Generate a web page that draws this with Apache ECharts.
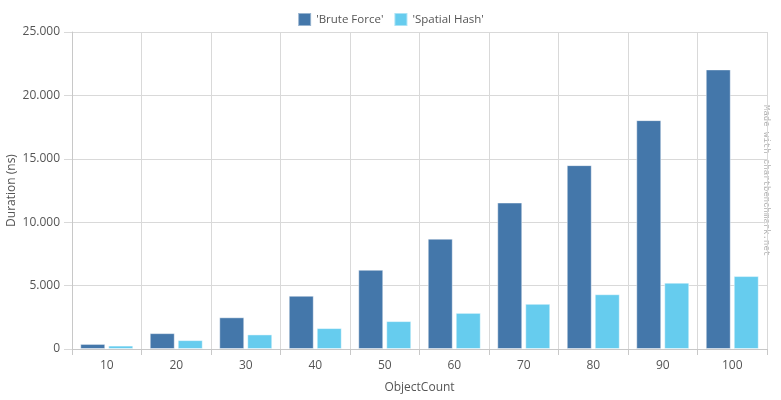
<!DOCTYPE html>
<html>
<head>
<meta charset="utf-8">
<script src="https://cdn.jsdelivr.net/npm/echarts@6/dist/echarts.min.js"></script>
<style>
  html, body { margin: 0; padding: 0; background: #fff; }
  #chart { width: 781px; height: 400px; }
</style>
</head>
<body>
<div id="chart"></div>
<script>
// categories and values
var objectCounts = ['10', '20', '30', '40', '50', '60', '70', '80', '90', '100'];
var bruteForce = [400, 1250, 2500, 4200, 6250, 8700, 11550, 14500, 18050, 22050];
var spatialHash = [270, 700, 1150, 1650, 2200, 2850, 3560, 4320, 5230, 5750];

var font = '"Open Sans", "Noto Sans", sans-serif';
var gridColor = '#d9d9d9';

// 25000 -> "25.000"
function fmt(v) {
  return String(v).replace(/\B(?=(\d{3})+(?!\d))/g, '.');
}

var chart = echarts.init(document.getElementById('chart'));
chart.setOption({
  animation: false,
  backgroundColor: '#fff',
  textStyle: { fontFamily: font },
  legend: {
    top: 7,
    left: 'center',
    itemWidth: 13,
    itemHeight: 13,
    itemGap: 10,
    icon: 'rect',
    textStyle: { color: '#555', fontSize: 11.5, fontFamily: font },
    data: ["'Brute Force'", "'Spatial Hash'"]
  },
  grid: { left: 72, right: 14, top: 32, bottom: 51, containLabel: false, outerBoundsMode: 'none' },
  xAxis: {
    type: 'category',
    data: objectCounts,
    name: 'ObjectCount',
    nameLocation: 'middle',
    nameGap: 33,
    nameMoveOverlap: false,
    nameTextStyle: { color: '#555', fontSize: 12 },
    axisLine: { lineStyle: { color: '#c8c8c8' } },
    axisTick: { show: true, length: 6, lineStyle: { color: '#c8c8c8' } },
    axisLabel: { color: '#555', fontSize: 12, margin: 11 },
    splitLine: { show: true, lineStyle: { color: gridColor } }
  },
  yAxis: {
    type: 'value',
    min: 0,
    max: 25000,
    interval: 5000,
    name: 'Duration (ns)',
    nameLocation: 'middle',
    nameGap: 54,
    nameMoveOverlap: false,
    nameTextStyle: { color: '#555', fontSize: 12 },
    axisLine: { show: true, lineStyle: { color: '#c8c8c8' } },
    axisTick: { show: true, length: 8, lineStyle: { color: gridColor } },
    axisLabel: { color: '#555', fontSize: 12, margin: 12, formatter: fmt },
    splitLine: { lineStyle: { color: gridColor } }
  },
  series: [
    {
      name: "'Brute Force'",
      type: 'bar',
      data: bruteForce,
      barWidth: 25,
      barGap: '12%',
      itemStyle: { color: '#4477aa', borderColor: 'rgba(255,255,255,0.45)', borderWidth: 1 }
    },
    {
      name: "'Spatial Hash'",
      type: 'bar',
      data: spatialHash,
      barWidth: 25,
      barGap: '12%',
      itemStyle: { color: '#66ccee', borderColor: 'rgba(255,255,255,0.45)', borderWidth: 1 }
    }
  ],
  graphic: [{
    type: 'text',
    x: 771,
    y: 105,
    rotation: -Math.PI / 2,
    style: {
      text: 'Made with chartbenchmark.net',
      fill: '#b0b0b0',
      font: '9px "Liberation Mono", monospace'
    }
  }]
});
</script>
</body>
</html>
